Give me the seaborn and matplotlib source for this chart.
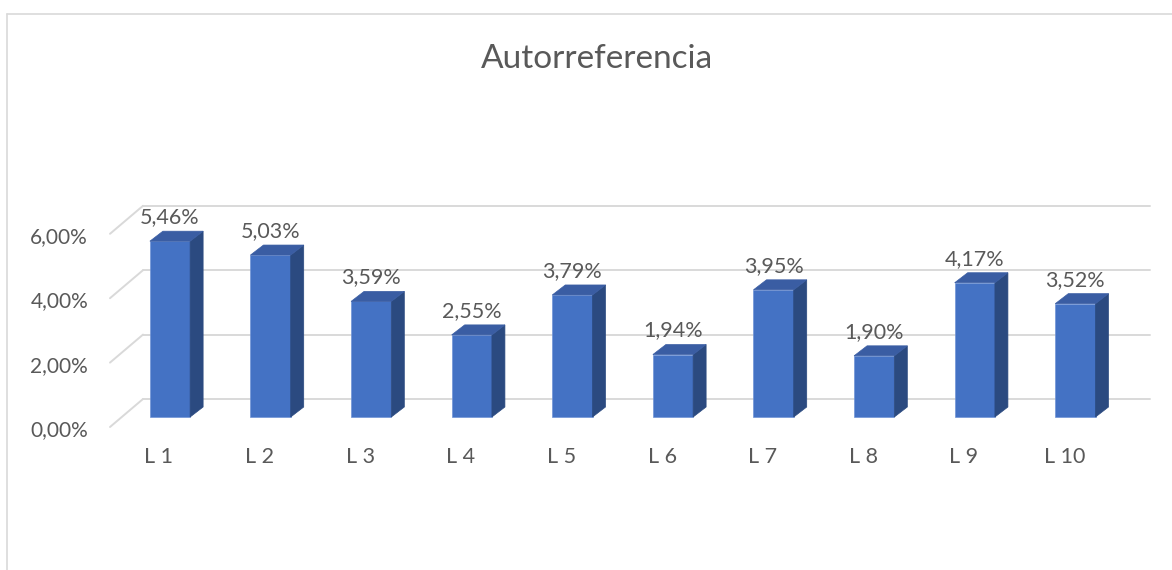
import numpy as np
import pandas as pd
import matplotlib
matplotlib.use("Agg")
import matplotlib.pyplot as plt
import matplotlib.transforms as mtransforms
from matplotlib.patches import Polygon
from matplotlib.lines import Line2D
import seaborn as sns

# data
categories = ["L 1", "L 2", "L 3", "L 4", "L 5", "L 6", "L 7", "L 8", "L 9", "L 10"]
values = [5.46, 5.03, 3.59, 2.55, 3.79, 1.94, 3.95, 1.90, 4.17, 3.52]
yticks = [0, 2, 4, 6]
ytick_labels = ["0,00%", "2,00%", "4,00%", "6,00%"]
title = "Autorreferencia"

sns.set_theme(style="white")
plt.rcParams['font.family'] = ['Lato', 'DejaVu Sans']

txt_col = "#595959"
grid_col = "#d9d9d9"
front_col = "#4472C4"
top_col = "#3A5DA3"
side_col = "#2B4A80"

W, H = 1172, 570
fig = plt.figure(figsize=(W / 100, H / 100), dpi=100)

# axes placed in pixels so that the 3D offsets can be given in pixels
ax_l, ax_r, ax_t, ax_b = 100, 1160, 170, 440
ax = fig.add_axes([ax_l / W, (H - ax_b) / H, (ax_r - ax_l) / W, (ax_b - ax_t) / H])

px_x = 100.6   # pixels per category
px_y = 32.2    # pixels per percent
x0_px, y0_px = 170, 417  # pixel of first category / zero line

def dx(p):
    return p / px_x

def dy(p):
    return p / px_y

df = pd.DataFrame({"cat": categories, "val": values})
sns.barplot(data=df, x="cat", y="val", color=front_col, saturation=1,
            width=0.4, ax=ax, zorder=3)
ax.set_xlim((ax_l - x0_px) / px_x, (ax_r - x0_px) / px_x)
ax.set_ylim(-(ax_b - y0_px) / px_y, (y0_px - ax_t) / px_y)

# back wall gridlines + left wall diagonals
x_front_left, x_back_left, x_right = dx(110 - x0_px), dx(143 - x0_px), dx(1150 - x0_px)
for v in yticks:
    ax.add_line(Line2D([x_front_left, x_back_left], [v - dy(10), v + dy(18)],
                       color=grid_col, lw=1.4, zorder=1))
    ax.add_line(Line2D([x_back_left, x_right], [v + dy(18), v + dy(18)],
                       color=grid_col, lw=1.4, zorder=1))

# 3D side and top faces built from the seaborn bars
ddx, ddy = dx(13), dy(10)
for bar in ax.patches[:len(values)]:
    bx0 = bar.get_x()
    bx1 = bx0 + bar.get_width()
    h = bar.get_height()
    bar.set_edgecolor("#6f93d6")
    bar.set_linewidth(0.5)
    ax.add_patch(Polygon([(bx1, 0), (bx1 + ddx, ddy), (bx1 + ddx, h + ddy), (bx1, h)],
                         closed=True, facecolor=side_col, edgecolor=side_col, lw=0.5, zorder=3))
    ax.add_patch(Polygon([(bx0, h), (bx1, h), (bx1 + ddx, h + ddy), (bx0 + ddx, h + ddy)],
                         closed=True, facecolor=top_col, edgecolor=top_col, lw=0.5, zorder=3))
    ax.annotate(f"{h:.2f}%".replace(".", ","), (bx0 + bar.get_width() / 2, h),
                xytext=(0, 13), textcoords="offset points", ha="center", va="baseline",
                fontsize=15.5, color=txt_col, zorder=4)

ax.set_yticks(yticks)
ax.set_yticklabels(ytick_labels)
ax.tick_params(axis="y", length=0, pad=8.6, labelsize=15, labelcolor=txt_col)
ax.tick_params(axis="x", length=0, pad=5, labelsize=15.5, labelcolor=txt_col)
for lab in ax.get_yticklabels():
    lab.set_transform(lab.get_transform() + mtransforms.ScaledTranslation(0, -0.11, fig.dpi_scale_trans))
for lab in ax.get_xticklabels():
    lab.set_transform(lab.get_transform() + mtransforms.ScaledTranslation(-0.11, 0, fig.dpi_scale_trans))
ax.set_xlabel("")
ax.set_ylabel("")
for s in ax.spines.values():
    s.set_visible(False)
ax.set_facecolor("none")

fig.text(597 / W, 1 - 59 / H, title, ha="center", va="center",
         fontsize=24, color=txt_col)

# chart area border
fig.add_artist(Line2D([7 / W, 1], [1 - 14 / H, 1 - 14 / H], color=grid_col, lw=1.2,
                      transform=fig.transFigure))
fig.add_artist(Line2D([7 / W, 7 / W], [0, 1 - 14 / H], color=grid_col, lw=1.2,
                      transform=fig.transFigure))

fig.savefig("out.png", dpi=100, facecolor="white")
